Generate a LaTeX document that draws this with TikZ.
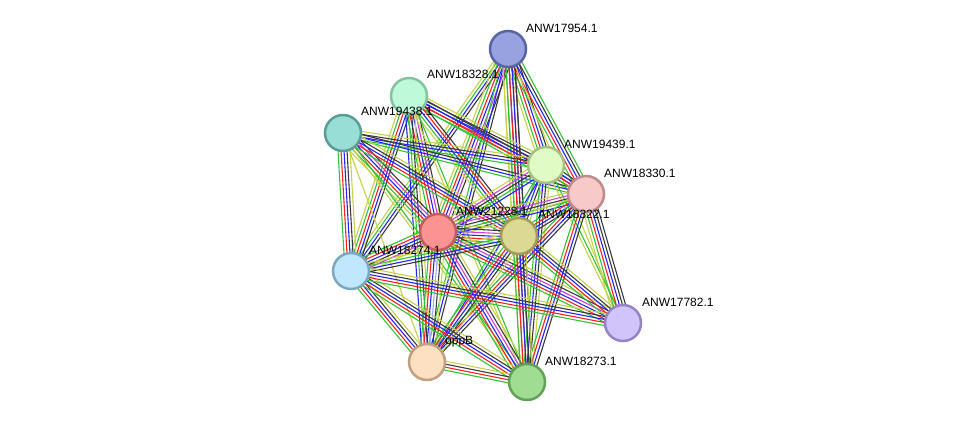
\documentclass[tikz,border=0pt]{standalone}
\usepackage{fontspec}
\setmainfont{Liberation Sans}
\usetikzlibrary{calc}
\pgfdeclarelayer{bg}
\pgfsetlayers{bg,main}
\definecolor{ty}{HTML}{C5D24A}
\definecolor{tg}{HTML}{33C433}
\definecolor{tr}{HTML}{FF2020}
\definecolor{tb}{HTML}{2424FF}
\definecolor{tk}{HTML}{3A3A3A}
\definecolor{tm}{HTML}{D040D8}
\definecolor{tc}{HTML}{9AA8FF}
\tikzset{
  prot/.style={circle,minimum size=36pt,line width=2.5pt,inner sep=0pt},
  lbl/.style={anchor=west,font=\fontsize{12}{14}\selectfont,inner sep=0pt},
  eline/.style={line width=1.1pt}
}
\newcommand\bundle[3]{%
  \foreach \cc [count=\ii] in {#3}{\xdef\nbund{\ii}}%
  \foreach \cc [count=\ii] in {#3}{%
    \pgfmathsetmacro\off{(\ii-(\nbund+1)/2)*3.0}%
    \draw[eline,\cc] ($(#1)!\off pt!90:(#2)$) -- ($(#2)!\off pt!-90:(#1)$);
  }}
\begin{document}
\begin{tikzpicture}[x=1pt,y=-1pt]
\useasboundingbox (0,0) rectangle (976,428);
% nodes
\node[prot,fill={rgb,255:red,152;green,162;blue,224},draw={rgb,255:red,88;green,100;blue,164}] (A) at (508,49) {};
\node[prot,fill={rgb,255:red,190;green,250;blue,218},draw={rgb,255:red,130;green,196;blue,160}] (B) at (409,96) {};
\node[prot,fill={rgb,255:red,153;green,222;blue,214},draw={rgb,255:red,92;green,156;blue,150}] (C) at (343,133) {};
\node[prot,fill={rgb,255:red,224;green,252;blue,196},draw={rgb,255:red,166;green,192;blue,131}] (D) at (546,165) {};
\node[prot,fill={rgb,255:red,247;green,201;blue,201},draw={rgb,255:red,192;green,139;blue,139}] (E) at (586,194) {};
\node[prot,fill={rgb,255:red,251;green,147;blue,147},draw={rgb,255:red,192;green,94;blue,94}] (F) at (438,232) {};
\node[prot,fill={rgb,255:red,220;green,217;blue,149},draw={rgb,255:red,160;green,157;blue,92}] (G) at (519,236) {};
\node[prot,fill={rgb,255:red,192;green,231;blue,251},draw={rgb,255:red,127;green,166;blue,191}] (H) at (351,271) {};
\node[prot,fill={rgb,255:red,209;green,196;blue,251},draw={rgb,255:red,149;green,131;blue,196}] (I) at (623,323) {};
\node[prot,fill={rgb,255:red,253;green,224;blue,194},draw={rgb,255:red,192;green,160;blue,128}] (J) at (427,362) {};
\node[prot,fill={rgb,255:red,160;green,221;blue,146},draw={rgb,255:red,99;green,161;blue,88}] (K) at (527,382) {};
% edges
\begin{pgfonlayer}{bg}
\fill[white] (0,0) rectangle (976,428);
\bundle{A}{H}{ty,tg,tb,tk}
\bundle{A}{F}{ty,tg,tr,tb,tm,tk}
\bundle{A}{J}{tg,tb,tk}
\bundle{A}{D}{ty,tg,tr,tb,tk}
\bundle{A}{E}{tg,tr,tb,tk,tg}
\bundle{A}{G}{ty,tg,tb,tr,tk}
\bundle{A}{K}{ty,tg,tr,tb,tk}
\bundle{A}{I}{ty}
\bundle{B}{D}{tg,tr,tb,tk,ty}
\bundle{B}{E}{tg,tr,tb,tk}
\bundle{B}{F}{tg,tr,tb,tm,tk}
\bundle{B}{G}{ty,tg,tb,tr,tk}
\bundle{B}{H}{ty,tg,tr,tb,tk}
\bundle{B}{J}{tb,tg,tk,ty}
\bundle{B}{K}{ty,tg}
\bundle{C}{D}{tg,tb,tk,ty}
\bundle{C}{E}{tg,tb,tk}
\bundle{C}{F}{ty,tg,tr,tb,tm,tk}
\bundle{C}{G}{tg,tr,tb,tk,ty}
\bundle{C}{H}{tg,tr,tb,tk,ty}
\bundle{C}{J}{ty}
\bundle{C}{K}{ty,tg}
\bundle{D}{E}{tg,tr,tb,tk}
\bundle{D}{F}{ty,tm,tk,tg,tb}
\bundle{D}{G}{tg,tb,tk,ty}
\bundle{D}{K}{tg,tb,tk,ty}
\bundle{D}{I}{ty,tg}
\bundle{D}{J}{tg,tb}
\bundle{E}{F}{ty,tm,tk,tg,tb}
\bundle{E}{G}{tg,tr,tb,tk}
\bundle{E}{H}{ty}
\bundle{E}{J}{tg,tr,tb,tk}
\bundle{E}{K}{tg,tr,tb,tk}
\bundle{E}{I}{ty,tg,tr,tb,tk,tk}
\bundle{F}{G}{tg,tr,tb,tm,tk,ty}
\bundle{F}{H}{tg,tr,tb,tk,tm,ty}
\bundle{F}{J}{tg,tr,tb,tc,tk,ty}
\bundle{F}{K}{tg,tr,tb,tm,tk,ty}
\bundle{F}{I}{tg,tr,tb,tm,tk,ty}
\bundle{G}{H}{ty,tg,tb,tk}
\bundle{G}{J}{tg,tr,tb,tk,ty}
\bundle{G}{K}{tg,tr,tb,tk,ty}
\bundle{G}{I}{tg,tr,tb,tk,ty}
\bundle{H}{J}{tg,tr,tb,tk,ty}
\bundle{H}{K}{tg,tr,tb,tk,ty}
\bundle{H}{I}{tg,tr,tb,tk,ty}
\bundle{J}{K}{tg,tr,tk,ty}
\end{pgfonlayer}
% labels
\node[lbl] (lA) at ($(A)+(18,-21)$) {ANW17954.1};
\node[lbl] (lB) at ($(B)+(18,-22)$) {ANW18328.1};
\node[lbl] (lC) at ($(C)+(18,-22)$) {ANW19438.1};
\node[lbl] (lD) at ($(D)+(18,-21)$) {ANW19439.1};
\node[lbl] (lE) at ($(E)+(18,-21)$) {ANW18330.1};
\node[lbl] (lF) at ($(F)+(18,-21)$) {ANW21228.1};
\node[lbl] (lG) at ($(G)+(19,-22)$) {ANW18322.1};
\node[lbl] (lH) at ($(H)+(18,-21)$) {ANW18274.1};
\node[lbl] (lI) at ($(I)+(19,-21)$) {ANW17782.1};
\node[lbl] (lJ) at ($(J)+(18,-20)$) {oppB};
\node[lbl] (lK) at ($(K)+(18,-21)$) {ANW18273.1};
\end{tikzpicture}
\end{document}
